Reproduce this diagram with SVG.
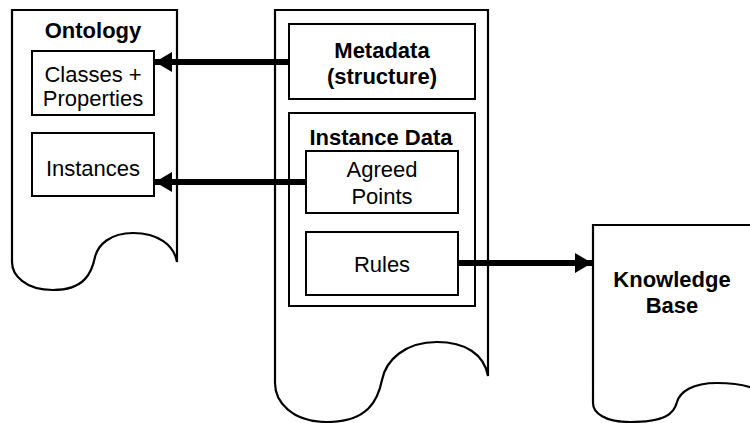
<svg xmlns="http://www.w3.org/2000/svg" width="750" height="423" viewBox="0 0 750 423">
<defs>
<style>
.doc{fill:#fff;stroke:#000;stroke-width:2.2}
.box{fill:#fff;stroke:#000;stroke-width:2}
.b{font-family:"Liberation Sans",Arial,sans-serif;font-weight:bold;font-size:22px;text-anchor:middle;fill:#000}
.r{font-family:"Liberation Sans",Arial,sans-serif;font-size:22px;text-anchor:middle;fill:#000}
.conn{stroke:#000;stroke-width:6;fill:none}
</style>
<marker id="ah" markerUnits="userSpaceOnUse" markerWidth="17" markerHeight="20" viewBox="0 0 17 20" refX="17" refY="10" orient="auto">
<polygon points="0,0 17,10 0,20" fill="#000"/>
</marker>
</defs>
<g id="ontology">
<path class="doc" d="M12,10 H177 V262 C174,245 158,233 133,233 C110,233 98,245 95,257 C92,272 85,290 53,290 C25,290 12,275 12,262 Z"/>
<text class="b" x="93" y="38">Ontology</text>
</g>
<g id="classes">
<rect class="box" x="32" y="51" width="122" height="64"/>
<text class="r" x="93" y="82">Classes +</text>
<text class="r" x="93" y="106">Properties</text>
</g>
<g id="instances">
<rect class="box" x="32" y="133" width="122" height="63"/>
<text class="r" x="93" y="176">Instances</text>
</g>
<g id="source">
<path class="doc" d="M275,10 H488 V376 C484,354 465,342 437,342 C405,342 386,360 382,380 C378,400 368,422 327,422 C292,422 275,402 275,383 Z"/>
</g>
<g id="metadata">
<rect class="box" x="289" y="24" width="186" height="75"/>
<text class="b" x="382" y="58">Metadata</text>
<text class="b" x="382" y="84">(structure)</text>
</g>
<g id="instance-data">
<rect class="box" x="289" y="113" width="186" height="193"/>
<text class="b" x="381" y="145">Instance Data</text>
</g>
<g id="agreed-points">
<rect class="box" x="306" y="151" width="152" height="62"/>
<text class="r" x="382" y="177">Agreed</text>
<text class="r" x="382" y="204">Points</text>
</g>
<g id="rules">
<rect class="box" x="306" y="232" width="152" height="63"/>
<text class="r" x="382" y="272">Rules</text>
</g>
<g id="knowledge-base">
<path class="doc" d="M593,225 H770 V400 C765,390 745,383 717,383 C692,383 680,392 677,402 C674,414 665,422 630,422 C605,422 593,413 593,403 Z"/>
<text class="b" x="672" y="287">Knowledge</text>
<text class="b" x="672" y="313">Base</text>
</g>
<g id="connectors">
<line class="conn" x1="289" y1="62" x2="155" y2="62" marker-end="url(#ah)"/>
<line class="conn" x1="306" y1="182" x2="155" y2="182" marker-end="url(#ah)"/>
<line class="conn" x1="458" y1="263" x2="592" y2="263" marker-end="url(#ah)"/>
</g>
</svg>
